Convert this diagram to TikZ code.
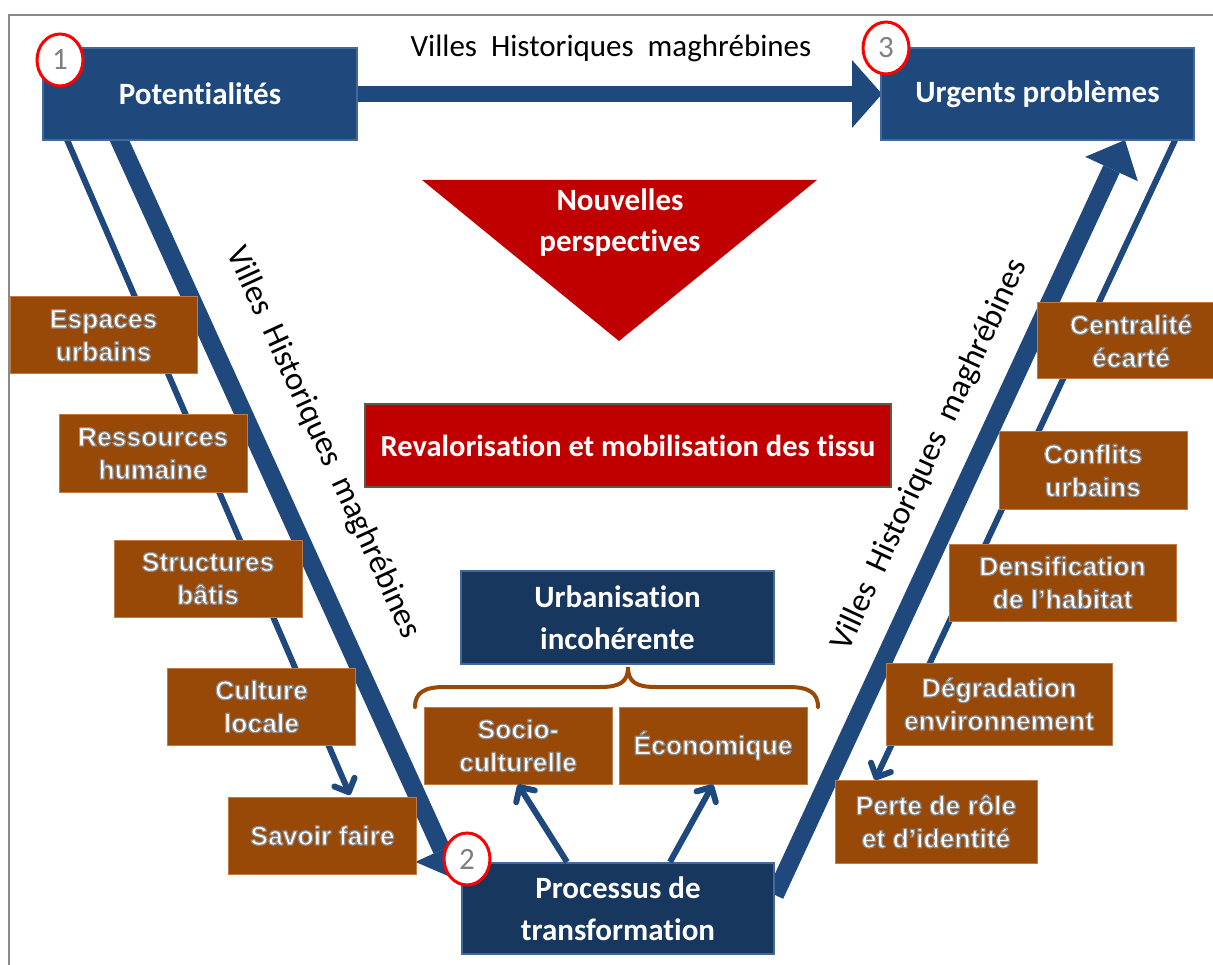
\documentclass[tikz,border=0pt]{standalone}
\usepackage{fontspec}
\setmainfont{Carlito}[Ligatures=NoCommon]
\newfontfamily\brownfont{Liberation Sans}
\usetikzlibrary{arrows.meta,shapes.geometric}
\definecolor{bblue}{HTML}{1F497D}
\definecolor{bblueedge}{HTML}{41699B}
\definecolor{navy}{HTML}{17375E}
\definecolor{brownc}{HTML}{984807}
\definecolor{brownedge}{HTML}{C07A45}
\definecolor{redc}{HTML}{C00000}
\definecolor{redbord}{HTML}{5A5A48}
\definecolor{framegray}{HTML}{8A8A8A}
\definecolor{numgray}{HTML}{7F7F7F}
% white text with a grey outline, drawn once (PDF text render mode 2: fill + stroke)
\newcommand\glowtxt[1]{\special{pdf:literal direct 2 Tr 1.2 w 0.55 G 1 j}#1\special{pdf:literal direct 0 Tr}}
\begin{document}
\begin{tikzpicture}[x=1pt,y=-1pt,
 bluebox/.style={draw=bblueedge, line width=2.5pt, fill=bblue, text=white, font=\bfseries\fontsize{31}{42}\selectfont, align=center, inner sep=0pt},
 navybox/.style={bluebox, fill=navy},
 brownbox/.style={draw=brownedge, line width=1pt, fill=brownc, text=white, font=\brownfont\bfseries\fontsize{26.5}{33}\selectfont, align=center, inner sep=0pt, minimum width=188pt, minimum height=77pt},
 numcirc/.style={ellipse, draw=red, line width=3pt, fill=white, minimum width=46pt, minimum height=52pt, inner sep=0pt, text=numgray, font=\fontsize{31}{34}\selectfont},
 thinarrow/.style={draw=bblue, line width=6pt, -{Straight Barb[length=11pt,width=22pt,round]}},
 thickarrow/.style={draw=bblue, line width=18pt, -{Triangle[length=32pt,width=58pt,line width=0pt]}},
 vlabel/.style={font=\fontsize{31}{36}\selectfont, text=black, inner sep=0pt},
]
\useasboundingbox (0,0) rectangle (1213,965);
\fill[white] (0,0) rectangle (1213,965);
\draw[framegray, line width=2pt] (9,965) -- (9,15) -- (1213,15);

% named connector end points
\coordinate (lt1) at (65,135);
\coordinate (lt2) at (350,795);
\coordinate (lk1) at (117,135);
\coordinate (lk2) at (455,879);
\coordinate (rt1) at (1177,136);
\coordinate (rt2) at (875,780);
\coordinate (rk1) at (775,895);
\coordinate (rk2) at (1125,140);
\coordinate (ta1) at (355,94);
\coordinate (ta2) at (882,94);

% connectors behind boxes
\draw[thinarrow] (lt1) -- (lt2);
\draw[thinarrow] (rt1) -- (rt2);
\draw[thickarrow] (lk1) -- (lk2);
\draw[thickarrow] (rk1) -- (rk2);
\draw[draw=bblue, line width=16pt, -{Triangle[length=30pt,width=68pt,line width=0pt]}] (ta1) -- (ta2);

% top blue boxes
\node[bluebox, minimum width=314pt, minimum height=92pt] (pot) at (200,94) {Potentialités};
\node[bluebox, minimum width=313pt, minimum height=92pt] (urg) at (1037.5,94) {Urgents problèmes};

% labels
\node[vlabel] (toplab) at (611,48) {Villes~~Historiques~~maghrébines};
\node[vlabel, font=\fontsize{33}{36}\selectfont, rotate=-65.4] (leftlab) at (323,443) {Villes~~Historiques~~maghrébines};
\node[vlabel, font=\fontsize{33}{36}\selectfont, rotate=65.2] (rightlab) at (930,455) {Villes~~Historiques~~maghrébines};

% triangle
\fill[redc] (422,180) -- (817,180) -- (619,341) -- cycle;
\node[text=white, font=\bfseries\fontsize{31}{41}\selectfont, align=center, inner sep=0pt] (nouv) at (620,223) {Nouvelles\\perspectives};

% red box
\node[draw=redbord, line width=2pt, fill=redc, text=white, font=\bfseries\fontsize{30.5}{36}\selectfont, inner sep=0pt, minimum width=526pt, minimum height=83pt] (reval) at (628,445.5) {Revalorisation et mobilisation des tissu};

% left brown boxes
\node[brownbox, minimum width=187pt] (l1) at (103.5,335.5) {\glowtxt{Espaces}\\\glowtxt{urbains}};
\node[brownbox] (l2) at (153,453.5) {\glowtxt{Ressources}\\\glowtxt{humaine}};
\node[brownbox] (l3) at (208,578.5) {\glowtxt{Structures}\\\glowtxt{bâtis}};
\node[brownbox] (l4) at (261.5,706.5) {\glowtxt{Culture}\\\glowtxt{locale}};
\node[brownbox] (l5) at (322.5,835.5) {\glowtxt{Savoir faire}};

% right brown boxes
\node[brownbox, minimum height=76pt] (r1) at (1131,341) {\glowtxt{Centralité}\\\glowtxt{écarté}};
\node[brownbox] (r2) at (1093,470.5) {\glowtxt{Conflits}\\\glowtxt{urbains}};
\node[brownbox, minimum width=227pt] (r3) at (1062.5,582.5) {\glowtxt{Densification}\\\glowtxt{de l’habitat}};
\node[brownbox, minimum width=226pt, minimum height=82pt] (r4) at (999,704) {\glowtxt{Dégradation}\\\glowtxt{environnement}};
\node[brownbox, minimum width=202pt, minimum height=83pt] (r5) at (936,821.5) {\glowtxt{Perte de rôle}\\\glowtxt{et d’identité}};

% urbanisation block
\node[navybox, minimum width=313pt, minimum height=93pt] (urb) at (617.5,617.5) {Urbanisation\\incohérente};
\draw[brownc, line width=4pt, line cap=round] (415,707) .. controls (415,692) and (425,687) .. (445,687) -- (600,687) .. controls (620,687) and (628,682) .. (628,667) .. controls (628,682) and (636,687) .. (656,687) -- (788,687) .. controls (808,687) and (818,692) .. (818,707);
\node[brownbox] (soc) at (518,745.5) {\glowtxt{Socio-}\\\glowtxt{culturelle}};
\node[brownbox] (eco) at (713,745.5) {\glowtxt{Économique}};

% processus
\node[navybox, minimum width=312pt, minimum height=91pt] (proc) at (618,908.5) {Processus de\\transformation};
\coordinate (pa1) at (567,862);
\coordinate (pa2) at (670,862);
\draw[thinarrow] (pa1) -- (soc.south);
\draw[thinarrow] (pa2) -- (eco.south);

% numbered circles
\node[numcirc] (c1) at (60,60) {1};
\node[numcirc] (c3) at (886,48) {3};
\node[numcirc] (c2) at (467,859) {2};
\end{tikzpicture}
\end{document}
